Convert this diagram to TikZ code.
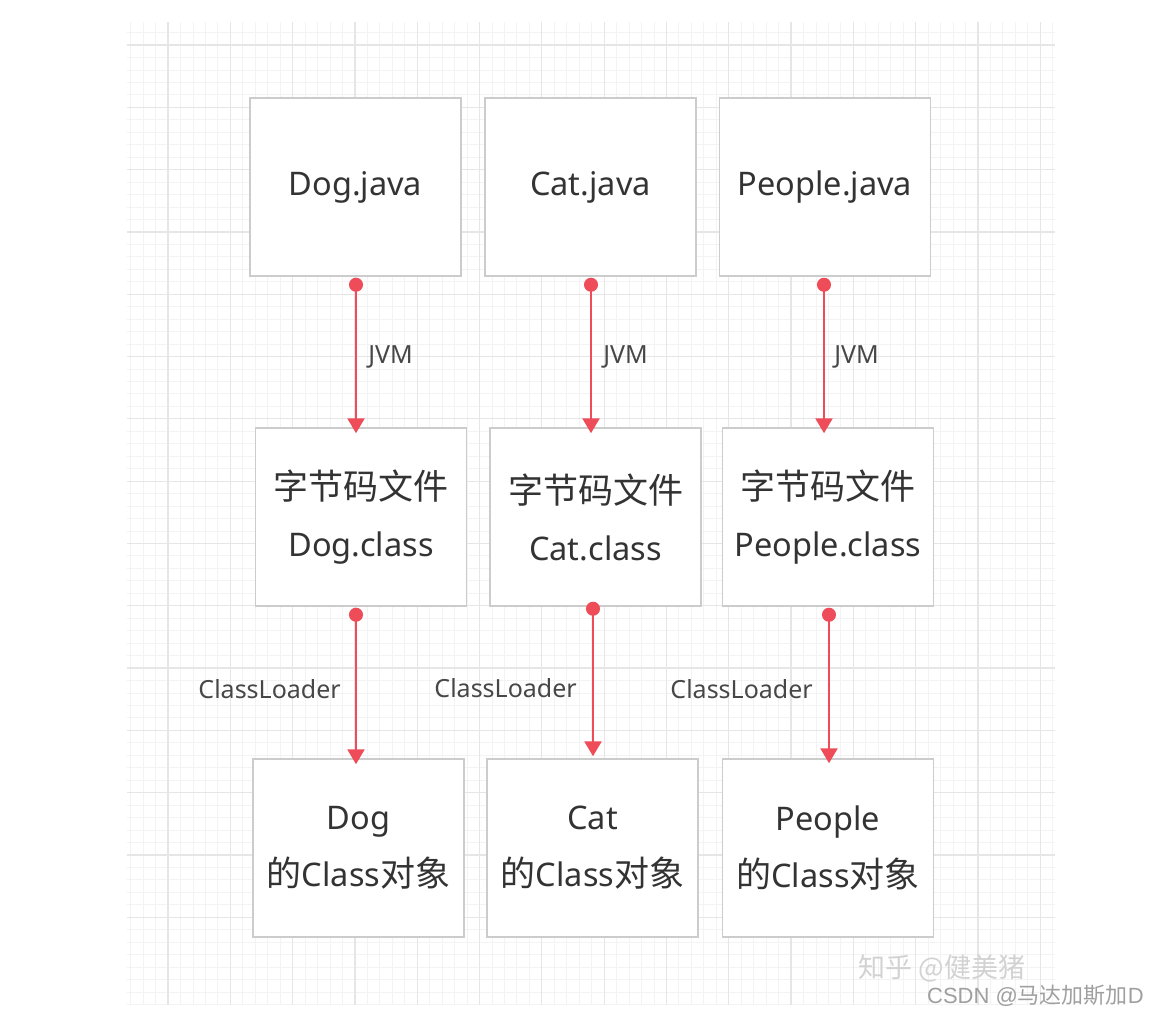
\documentclass[tikz,border=0pt]{standalone}
\usepackage{fontspec}
\setmainfont{Noto Sans}
\newfontfamily\cjk{Noto Sans CJK SC}
\newfontfamily\marksans{Liberation Sans}
\usetikzlibrary{arrows.meta,positioning}
\definecolor{arrowred}{RGB}{238,76,88}
\definecolor{boxline}{RGB}{204,204,204}
\definecolor{boxtext}{RGB}{51,51,51}
\definecolor{gridmajor}{RGB}{230,230,230}
\definecolor{gridminor}{RGB}{243,243,243}

\begin{document}
\begin{tikzpicture}[x=1pt,y=-1pt]

    \tikzstyle{minorline}=[draw=gridminor,line width=0.8pt]
    \tikzstyle{majorline}=[draw=gridmajor,line width=1.2pt]
    \tikzstyle{stage}=[draw=boxline,fill=white,line width=1.5pt,minimum width=211pt,minimum height=178pt,align=center,text=boxtext,font=\fontsize{32.5}{57}\selectfont,inner sep=0pt]
    \tikzstyle{flow}=[draw=arrowred,line width=2.5pt,{Circle[length=14pt,fill=arrowred]}-{Triangle[length=15pt,width=17pt,fill=arrowred]}]
    \tikzstyle{steplabel}=[text=boxtext!90,font=\fontsize{25}{28}\selectfont,inner sep=0pt]
    \newcommand{\zh}[1]{{\cjk\fontsize{35}{57}\selectfont #1}}

    \useasboundingbox (0,0) rectangle (1158,1019);

    % grid paper
    \begin{scope}
      \clip (127,22) rectangle (1055,1005);
      \foreach \k in {-4,...,71} {
        \draw[minorline] ({168+12.46*\k},22) -- ({168+12.46*\k},1005);
      }
      \foreach \k in {-2,...,77} {
        \draw[minorline] (127,{45+12.46*\k}) -- (1055,{45+12.46*\k});
      }
      \foreach \k in {-1,...,14} {
        \draw[majorline] ({168+62.3*\k},22) -- ({168+62.3*\k},1005);
        \draw[majorline] (127,{45+62.3*\k}) -- (1055,{45+62.3*\k});
      }
    \end{scope}

    % source files
    \node (dogjava) [stage] at (355.5,187) {Dog.java};
    \node (catjava) [stage] at (590.5,187) {Cat.java};
    \node (peoplejava) [stage] at (825,187) {People.java};

    % byte code
    \node (dogclass) [stage] at (361,517) {\zh{字节码文件}\\Dog.class};
    \node (catclass) [stage] at (595.5,517) {\zh{字节码文件}\\Cat.class};
    \node (peopleclass) [stage] at (828,517) {\zh{字节码文件}\\People.class};

    % class objects
    \node (dogobj) [stage] at (358.5,848) {Dog\\\zh{的}Class\zh{对象}};
    \node (catobj) [stage] at (592.5,848) {Cat\\\zh{的}Class\zh{对象}};
    \node (peopleobj) [stage] at (828,848) {People\\\zh{的}Class\zh{对象}};

    \coordinate (dogx) at (356,0);
    \coordinate (catx) at (591,0);
    \coordinate (peoplex) at (824,0);
    \coordinate (catx2) at (593,0);
    \coordinate (peoplex2) at (829,0);

    \draw[flow,shorten <=1pt,shorten >=-6pt] (dogjava.south -| dogx) -- node[steplabel,midway,right=11pt,yshift=-5pt] {JVM} (dogclass.north -| dogx);
    \draw[flow,shorten <=1pt,shorten >=-6pt] (catjava.south -| catx) -- node[steplabel,midway,right=11pt,yshift=-5pt] {JVM} (catclass.north -| catx);
    \draw[flow,shorten <=1pt,shorten >=-6pt] (peoplejava.south -| peoplex) -- node[steplabel,midway,right=9pt,yshift=-5pt] {JVM} (peopleclass.north -| peoplex);

    \draw[flow,shorten <=1pt,shorten >=-6pt] (dogclass.south -| dogx) -- node[steplabel,midway,left=14pt,yshift=-7pt] {ClassLoader} (dogobj.north -| dogx);
    \draw[flow,shorten <=-5pt,shorten >=2pt] (catclass.south -| catx2) -- node[steplabel,midway,left=15pt,yshift=-6pt] {ClassLoader} (catobj.north -| catx2);
    \draw[flow,shorten <=1pt,shorten >=-5pt] (peopleclass.south -| peoplex2) -- node[steplabel,midway,left=15pt,yshift=-7pt] {ClassLoader} (peopleobj.north -| peoplex2);

    % watermarks
    \node (zhihu) [text=gray!35,font=\cjk\fontsize{27}{30}\selectfont,inner sep=0pt] at (942,968) {知乎 @健美猪};
    \node (csdn) [text=gray!75,font=\marksans\fontsize{22}{24}\selectfont,inner sep=0pt,anchor=east] at (1144,996) {CSDN @{\cjk 马达加斯加}D};

\end{tikzpicture}
\end{document}
